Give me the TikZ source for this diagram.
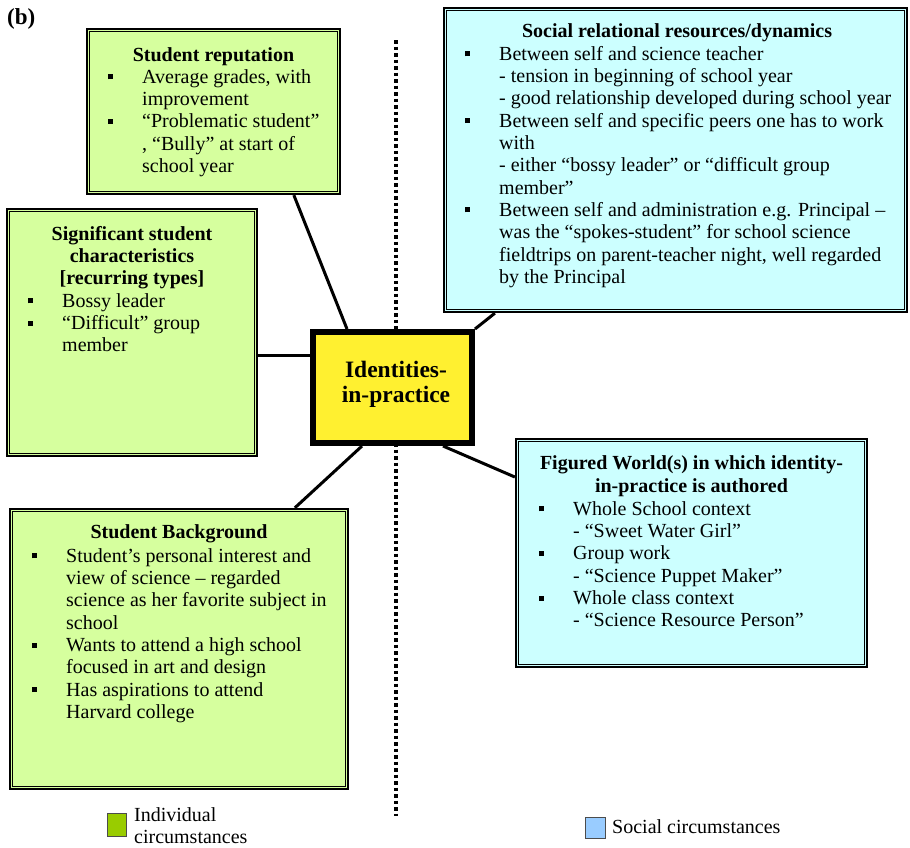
\documentclass[tikz,border=0pt]{standalone}
\usepackage{fontspec}
\setmainfont{Liberation Serif}
\usetikzlibrary{calc}
\pgfdeclarelayer{background}
\pgfsetlayers{background,main}
\definecolor{gfill}{HTML}{D6FF9E}
\definecolor{bfill}{HTML}{CCFFFF}
\definecolor{yfill}{HTML}{FFF030}
\definecolor{lgreen}{HTML}{99CC00}
\definecolor{lblue}{HTML}{99CCFF}
\newcommand\bul{\makebox[34pt][l]{\rule[4pt]{5pt}{5pt}}}
\newcommand\ind{\hspace*{34pt}}
\tikzset{
  boxbase/.style={draw=black, line width=2.3pt, inner sep=0pt, rectangle},
  gbox/.style={boxbase, fill=gfill},
  bbox/.style={boxbase, fill=bfill},
  inner/.style={draw=black, line width=1.5pt},
  conn/.style={draw=black, line width=3pt},
  dotline/.style={draw=black, line width=3.5pt, dash pattern=on 3.5pt off 3pt},
  body/.style={anchor=north west, inner sep=0pt, align=left,
    font=\fontsize{20}{22.3}\selectfont},
  ttl/.style={anchor=north, inner sep=0pt, align=center,
    font=\fontsize{20}{22.3}\selectfont\bfseries},
  legsq/.style={draw=black!70, line width=0.8pt, inner sep=0pt, rectangle},
  legtxt/.style={anchor=north west, inner sep=0pt, align=left,
    font=\fontsize{20}{22.5}\selectfont},
}
\begin{document}
\begin{tikzpicture}[x=1pt, y=-1pt]
\useasboundingbox (0,0) rectangle (910,847);
\begin{pgfonlayer}{background}
  \fill[white] (0,0) rectangle (910,847);
\end{pgfonlayer}

% boxes
\node[gbox, minimum width=253pt, minimum height=165pt] (rep) at (213.5,111.5) {};
\node[gbox, minimum width=250pt, minimum height=247pt] (sig) at (132,332.5) {};
\node[bbox, minimum width=463pt, minimum height=304pt] (soc) at (675.5,160) {};
\node[bbox, minimum width=351pt, minimum height=228pt] (fig) at (691.5,553) {};
\node[gbox, minimum width=338pt, minimum height=280pt] (bg) at (179,649) {};
\node[draw=black, line width=6pt, fill=yfill, inner sep=0pt,
      minimum width=159pt, minimum height=111pt] (ctr) at (392.5,387.5) {};

\foreach \b in {rep,sig,soc,fig,bg}{
  \draw[inner] ([shift={(3.6pt,-3.6pt)}]\b.north west) rectangle ([shift={(-3.6pt,3.6pt)}]\b.south east);
}
\draw[draw=black, line width=2pt] ([shift={(5pt,-5pt)}]ctr.north west) rectangle ([shift={(-5pt,5pt)}]ctr.south east);

% dotted divider and connectors
\coordinate (d1) at (396,40);
\coordinate (d2) at (396,816);
\begin{pgfonlayer}{background}
  \draw[dotline] (d1) -- (d2);
  \draw[conn] ([xshift=208pt]rep.south west) -- ([xshift=37pt]ctr.north west);
  \draw[conn] ([yshift=-22.5pt]sig.east) coordinate (s1) -- (ctr.west |- s1);
  \draw[conn] ([xshift=52pt]soc.south west) -- (ctr.north east);
  \draw[conn] ([xshift=-32pt]ctr.south east) -- ([yshift=76pt]fig.west);
  \draw[conn] ([xshift=52pt]ctr.south west) -- ([xshift=286pt]bg.north west);
\end{pgfonlayer}

% label (b)
\node[anchor=base west, inner sep=0pt, font=\fontsize{23}{26}\selectfont\bfseries] (lab) at (7,24) {(b)};

% centre text
\node[anchor=north, inner sep=0pt, align=center, font=\fontsize{23.5}{24.5}\selectfont\bfseries] (ctrt) at (396,360.2) {\strut Identities-\\in-practice};

% Student reputation
\node[ttl] (rept) at (213.5,45.2) {\strut Student reputation};
\node[body] (repb) at (108,67.5) {\strut\bul Average grades, with\\
\ind improvement\\
\bul “Problematic student”\\
\ind , “Bully” at start of\\
\ind school year};

% Significant student characteristics
\node[ttl] (sigt) at (132,224.5) {\strut Significant student\\characteristics\\{[}recurring types{]}};
\node[body] (sigb) at (28,291.5) {\strut\bul Bossy leader\\
\bul “Difficult” group\\
\ind member};

% Social relational resources/dynamics
\node[ttl] (soct) at (677,21.5) {\strut Social relational resources/dynamics};
\node[body] (socb) at (465,44.5) {\strut\bul Between self and science teacher\\
\ind - tension in beginning of school year\\
\ind - good relationship developed during school year\\
\bul Between self and specific peers one has to work\\
\ind with\\
\ind - either “bossy leader” or “difficult group\\
\ind member”\\
\bul Between self and administration e.g. Principal –\\
\ind was the “spokes-student” for school science\\
\ind fieldtrips on parent-teacher night, well regarded\\
\ind by the Principal};

% Figured worlds
\node[ttl] (figt) at (691.5,454) {\strut Figured World(s) in which identity-\\in-practice is authored};
\node[body] (figb) at (539,499.5) {\strut\bul Whole School context\\
\ind - “Sweet Water Girl”\\
\bul Group work\\
\ind - “Science Puppet Maker”\\
\bul Whole class context\\
\ind - “Science Resource Person”};

% Student background
\node[ttl] (bgt) at (179,522.5) {\strut Student Background};
\node[body] (bgb) at (32,546.5) {\strut\bul Student’s personal interest and\\
\ind view of science – regarded\\
\ind science as her favorite subject in\\
\ind school\\
\bul Wants to attend a high school\\
\ind focused in art and design\\
\bul Has aspirations to attend\\
\ind Harvard college};

% legend
\node[legsq, fill=lgreen, minimum width=19pt, minimum height=23pt] (lg1) at (116.5,824.5) {};
\node[legtxt] (lg1t) at (134,805.25) {\strut Individual\\circumstances};
\node[legsq, fill=lblue, minimum width=20pt, minimum height=21pt] (lg2) at (595,827.5) {};
\node[legtxt] (lg2t) at (612,817.25) {\strut Social circumstances};
\end{tikzpicture}
\end{document}
